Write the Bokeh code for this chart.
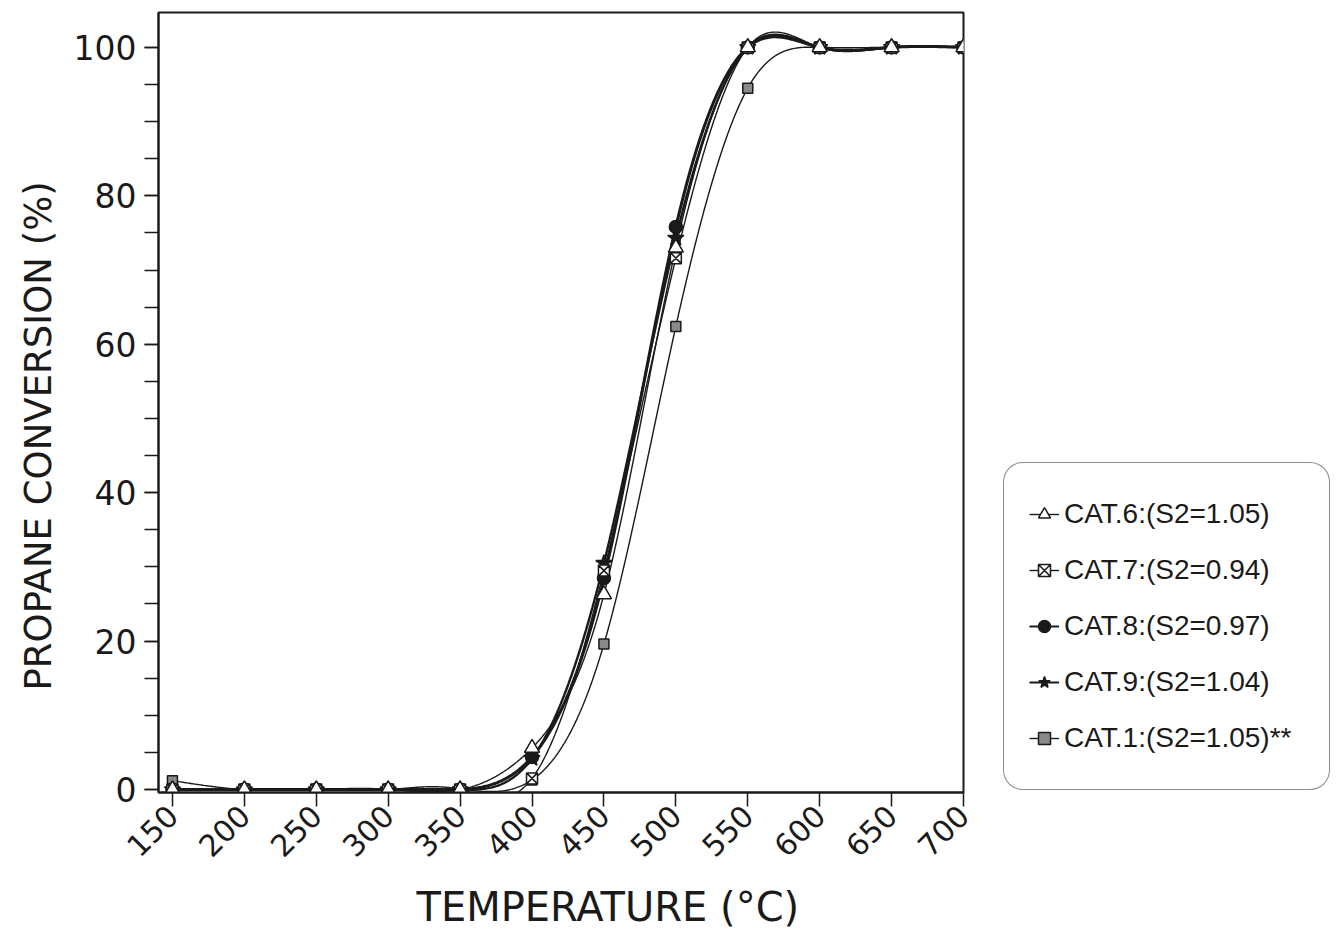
import math
import numpy as np
from bokeh.plotting import figure
from bokeh.layouts import row
from bokeh.models import (Range1d, FixedTicker, Legend, LegendItem, Title,
                          ColumnDataSource)
from bokeh.embed import file_html
from bokeh.resources import INLINE

# Reaction temperature (deg C)
TEMPS = [150, 200, 250, 300, 350, 400, 450, 500, 550, 600, 650, 700]

# Propane conversion (%) for each catalyst
CAT6 = [0.0, 0.0, 0.0, 0.0, 0.0, 5.6, 26.3, 73.0, 100.0, 100.0, 100.0, 100.0]
CAT7 = [0.0, 0.0, 0.0, 0.0, 0.0, 1.5, 29.5, 71.6, 100.0, 100.0, 100.0, 100.0]
CAT8 = [0.0, 0.0, 0.0, 0.0, 0.0, 4.4, 28.5, 75.8, 100.0, 100.0, 100.0, 100.0]
CAT9 = [0.0, 0.0, 0.0, 0.0, 0.0, 4.2, 30.5, 74.3, 100.0, 100.0, 100.0, 100.0]
CAT1 = [1.2, 0.0, 0.0, 0.0, 0.0, 1.3, 19.6, 62.4, 94.5, 100.0, 100.0, 100.0]

LABELS = ["CAT.6:(S2=1.05)", "CAT.7:(S2=0.94)", "CAT.8:(S2=0.97)",
          "CAT.9:(S2=1.04)", "CAT.1:(S2=1.05)**"]

Y_TICKS = [0, 20, 40, 60, 80, 100]


def natural_spline(x, y, xs):
    """Natural cubic spline through (x, y), evaluated at xs."""
    x = np.asarray(x, float)
    y = np.asarray(y, float)
    n = len(x)
    h = np.diff(x)
    A = np.zeros((n, n))
    b = np.zeros(n)
    A[0, 0] = 1.0
    A[-1, -1] = 1.0
    for i in range(1, n - 1):
        A[i, i - 1] = h[i - 1]
        A[i, i] = 2 * (h[i - 1] + h[i])
        A[i, i + 1] = h[i]
        b[i] = 6 * ((y[i + 1] - y[i]) / h[i] - (y[i] - y[i - 1]) / h[i - 1])
    M = np.linalg.solve(A, b)
    idx = np.clip(np.searchsorted(x, xs) - 1, 0, n - 2)
    x0, x1 = x[idx], x[idx + 1]
    hh = x1 - x0
    t0 = x1 - xs
    t1 = xs - x0
    return (M[idx] * t0 ** 3 / (6 * hh) + M[idx + 1] * t1 ** 3 / (6 * hh)
            + (y[idx] / hh - M[idx] * hh / 6) * t0
            + (y[idx + 1] / hh - M[idx + 1] * hh / 6) * t1)


FONT = "DejaVu Sans"
INK = "#1a1a1a"
NAN = float("nan")

p = figure(width=993, height=941, output_backend="svg", toolbar_location=None,
           x_range=Range1d(140.3, 700), y_range=Range1d(-0.4, 104.7),
           min_border_left=158, min_border_right=30, min_border_top=12,
           min_border_bottom=149)
p.background_fill_color = "white"
p.border_fill_color = "white"
p.grid.visible = False
p.outline_line_color = INK
p.outline_line_width = 2

# axes
p.xaxis.ticker = FixedTicker(ticks=TEMPS)
p.yaxis.ticker = FixedTicker(ticks=Y_TICKS, minor_ticks=list(range(0, 101, 5)))
for ax in (p.xaxis[0], p.yaxis[0]):
    ax.axis_line_color = INK
    ax.axis_line_width = 2
    ax.major_tick_line_color = INK
    ax.major_tick_line_width = 1.5
    ax.major_tick_in = 0
    ax.major_tick_out = 14
    ax.minor_tick_line_color = INK
    ax.minor_tick_line_width = 1.5
    ax.minor_tick_in = 0
    ax.minor_tick_out = 14
    ax.major_label_text_font = FONT
    ax.major_label_text_color = INK
p.yaxis.major_label_text_font_size = "33px"
p.xaxis.major_label_text_font_size = "30px"
p.xaxis.minor_tick_out = 0
p.xaxis.major_label_orientation = math.pi / 4
p.xaxis.major_label_standoff = 4
p.yaxis.major_label_standoff = 8

p.add_layout(Title(text="TEMPERATURE (°C)", align="left", offset=258,
                   text_font=FONT, text_font_size="40px",
                   text_font_style="normal", text_color=INK, standoff=24),
             "below")
p.add_layout(Title(text="PROPANE CONVERSION (%)", align="left", offset=102,
                   text_font=FONT, text_font_size="37px",
                   text_font_style="normal", text_color=INK, standoff=22),
             "left")

# smooth curves through the measured points
xs = np.linspace(TEMPS[0], TEMPS[-1], 600)
series = [
    (CAT6, dict(marker="triangle", size=15, fill_color="white"), 1.4),
    (CAT7, dict(marker="square_x", size=11, fill_color="white"), 1.4),
    (CAT8, dict(marker="circle", size=13, fill_color=INK), 3.0),
    (CAT9, dict(marker="star", size=17, fill_color=INK), 2.4),
    (CAT1, dict(marker="square", size=10, fill_color="#8a8a8a"), 1.4),
]

for vals, _, lw in series:
    ys = natural_spline(TEMPS, vals, xs)
    p.line(xs, ys, line_color=INK, line_width=lw)

# markers: squares at the back, open triangles on top
for i in [4, 2, 3, 1, 0]:
    vals, mk, _ = series[i]
    src = ColumnDataSource(dict(t=TEMPS, v=vals))
    p.scatter("t", "v", source=src, line_color=INK, line_width=1.5, **mk)

# key panel beside the chart, with sample glyphs in the same styles
k = figure(width=349, height=941, output_backend="svg", toolbar_location=None,
           x_range=Range1d(0, 1), y_range=Range1d(0, 1),
           x_axis_location=None, y_axis_location=None, min_border=0)
k.grid.visible = False
k.outline_line_color = None
k.background_fill_color = "white"
k.border_fill_color = "white"

items = []
for i, (vals, mk, lw) in enumerate(series):
    lr = k.line(x=[NAN], y=[NAN], line_color=INK, line_width=min(lw, 2.0))
    sr = k.scatter(x=[NAN], y=[NAN], line_color=INK, line_width=1.5, **mk)
    items.append(LegendItem(label=LABELS[i], renderers=[lr, sr]))

legend = Legend(items=items, location=(10, 2), orientation="vertical",
                label_text_font="Liberation Sans", label_text_font_size="28px",
                label_text_color=INK, glyph_width=30, glyph_height=52,
                label_height=52, label_width=240, label_standoff=5,
                spacing=4, padding=25, margin=0,
                border_line_color=INK, border_line_width=1.5,
                background_fill_color="white", background_fill_alpha=1.0)
if "border_radius" in Legend.properties():
    legend.border_radius = 20
k.add_layout(legend, "center")

layout = row(p, k, spacing=0)
open("out.html", "w").write(file_html(layout, INLINE))
